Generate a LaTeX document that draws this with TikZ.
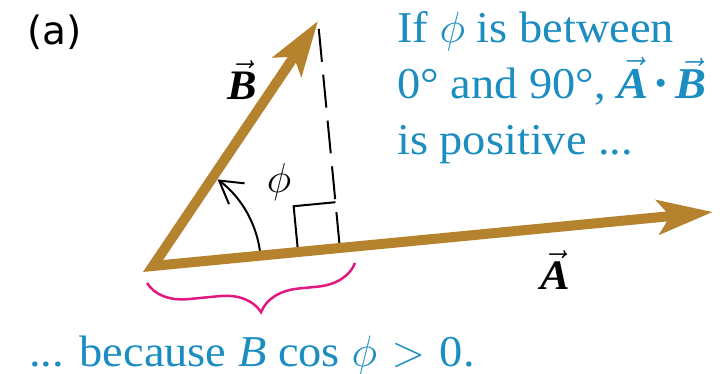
\RequirePackage{fix-cm}
\documentclass[tikz,border=0pt]{standalone}
\usepackage{amsmath}
\usepackage{fontspec}
\setmainfont{Liberation Serif}[FakeStretch=1.055]
\newfontfamily\partefont{DejaVu Sans}
\usetikzlibrary{arrows.meta,calc,positioning,decorations.pathreplacing}
\definecolor{vectorbrown}{RGB}{181,130,46}
\definecolor{notablue}{RGB}{27,141,192}
\definecolor{llavepink}{RGB}{224,24,128}
\newcommand{\punto}{\mkern3mu\raisebox{10pt}{\scalebox{0.47}{$\bullet$}}\mkern4mu}
\tikzset{
  vector/.style={
    line width=10pt,
    vectorbrown,
    line join=miter,
    {Stealth[length=55pt,width=34pt,inset=12pt]}-{Stealth[length=55pt,width=34pt,inset=12pt]}
  },
  nota/.style={
    text=notablue,
    align=left,
    inner sep=0pt,
    font=\fontsize{44pt}{56pt}\selectfont
  },
  etiqueta/.style={
    inner sep=0pt,
    font=\fontsize{42pt}{50pt}\selectfont
  },
  guia/.style={
    line width=2pt,
    dash pattern=on 33pt off 13pt
  },
  llave/.style={
    decorate,
    decoration={brace,mirror,amplitude=40pt,aspect=0.53},
    line width=2.5pt,
    llavepink
  }
}

\begin{document}
\begin{tikzpicture}[x=1pt,y=1pt]
\useasboundingbox (0,0) rectangle (720,374);
\coordinate (o) at (153,108);
\coordinate (a) at (713,162);
\coordinate (b) at (318,353);
\coordinate (pie) at ($(o)!(b)!(a)$);
% angulo recto
\coordinate (r1) at ($(pie)!42pt!(o)$);
\coordinate (r2) at ($(pie)!46pt!(b)$);
\draw[line width=2pt] (r1) -- ($(r1)+(r2)-(pie)$) -- (r2);
\draw[guia] ($(b)!8pt!(pie)$) -- (pie);
% arco
\draw[line width=2pt,-{Straight Barb[length=22pt,width=26pt]}] ($(o)+(5.5:108)$) arc[start angle=5.5,end angle=53.3,radius=108];
\draw[vector] (b) -- (o) -- (a);
\node[etiqueta] (phi) at (279,192) {$\phi$};
\node[etiqueta,anchor=base] (lb) at (242,274) {$\vec{\textbf{\textit{B}}}$};
\node[etiqueta,anchor=base] (la) at (555,84) {$\vec{\textbf{\textit{A}}}$};
% llave
\coordinate (l1) at (147,91);
\coordinate (l2) at (355,111);
\draw[llave] (l1) -- (l2);
\node[nota,anchor=base west] (texto) at (397,219) {If $\phi$ is between\\0° and 90°, $\vec{\textbf{\textit{A}}}\punto\vec{\textbf{\textit{B}}}$\\is positive ...};
\node[nota,anchor=base] (porque) at (252,7) {... because \textit{B} cos $\phi$\,\,$>$\,\,0.};
\node[anchor=base west,inner sep=0pt,font=\partefont\fontsize{39pt}{42pt}\selectfont] (parte) at (27,329) {(a)};
\end{tikzpicture}
\end{document}
